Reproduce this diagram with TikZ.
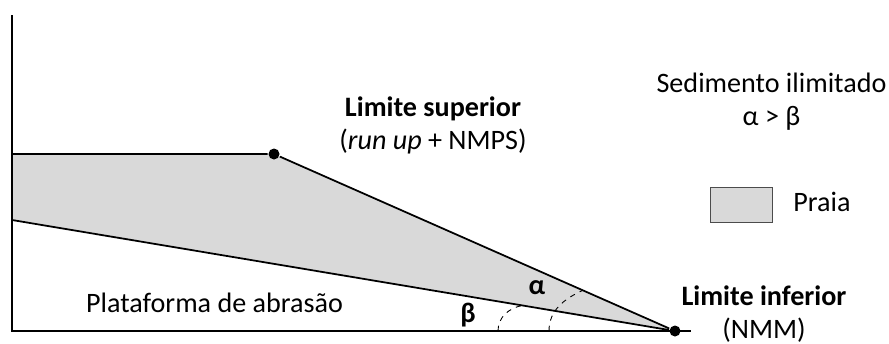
\documentclass[tikz,border=0pt]{standalone}
\usepackage{fontspec}
\setmainfont{Carlito}
\usepackage{tikz}
\usetikzlibrary{calc}

\definecolor{praiagray}{HTML}{D9D9D9}

\begin{document}
\begin{tikzpicture}[
    line width=1pt,
    dot/.style={circle, fill=black, inner sep=0pt, minimum size=0.22cm},
    txt/.style={align=center, inner sep=0pt, font=\fontsize{16}{18.8}\selectfont},
    greek/.style={txt, font=\fontsize{16}{18.8}\selectfont\bfseries},
    angarc/.style={dashed, line width=0.5pt}
]
\useasboundingbox (0,0) rectangle (17.78,6.86);
% axes
\coordinate (origin) at (0.24,0.24);
\coordinate (ytop) at (0.24,6.56);
\coordinate (xend) at (13.82,0.24);
\coordinate (upleft) at (0.24,3.78);
\coordinate (lowleft) at (0.24,2.46);
\coordinate (supc) at (5.48,3.78);
\coordinate (infc) at (13.50,0.24);
% praia
\fill[praiagray] (upleft) -- (supc) -- (infc) -- (lowleft) -- cycle;
\node[dot] (sup) at (supc) {};
\node[dot] (inf) at (infc) {};
\draw (ytop) -- (origin) -- (xend);
\draw (upleft) -- (sup) -- (inf);
\draw (lowleft) -- (inf);
% angles
\coordinate (alphaend) at ($(infc)!0.23!(supc)$);
\coordinate (betaend) at ($(infc)!0.23!(lowleft)$);
\draw[angarc] (10.98,0.24) to[out=90, in=205] (alphaend);
\draw[angarc] (9.96,0.24) to[out=90, in=190] (betaend);
\node[greek] (alpha) at (10.74,1.10) {α};
\node[greek] (beta) at (9.36,0.56) {β};
% labels
\node[txt] (supl) at (8.66,4.36) {\textbf{Limite superior}\\(\textit{run up} + NMPS)};
\node[txt] (infl) at (15.28,0.58) {\textbf{Limite inferior}\\(NMM)};
\node[txt] (plat) at (4.29,0.80) {Plataforma de abrasão};
\node[txt] (sed) at (15.43,4.83) {Sedimento ilimitado\\α > β};
% legend
\node[draw=black!70, fill=praiagray, line width=0.5pt, minimum width=1.24cm,
      minimum height=0.7cm, inner sep=0pt] (key) at (14.82,2.77) {};
\node[txt] (keyl) at (16.44,2.82) {Praia};
\end{tikzpicture}
\end{document}
